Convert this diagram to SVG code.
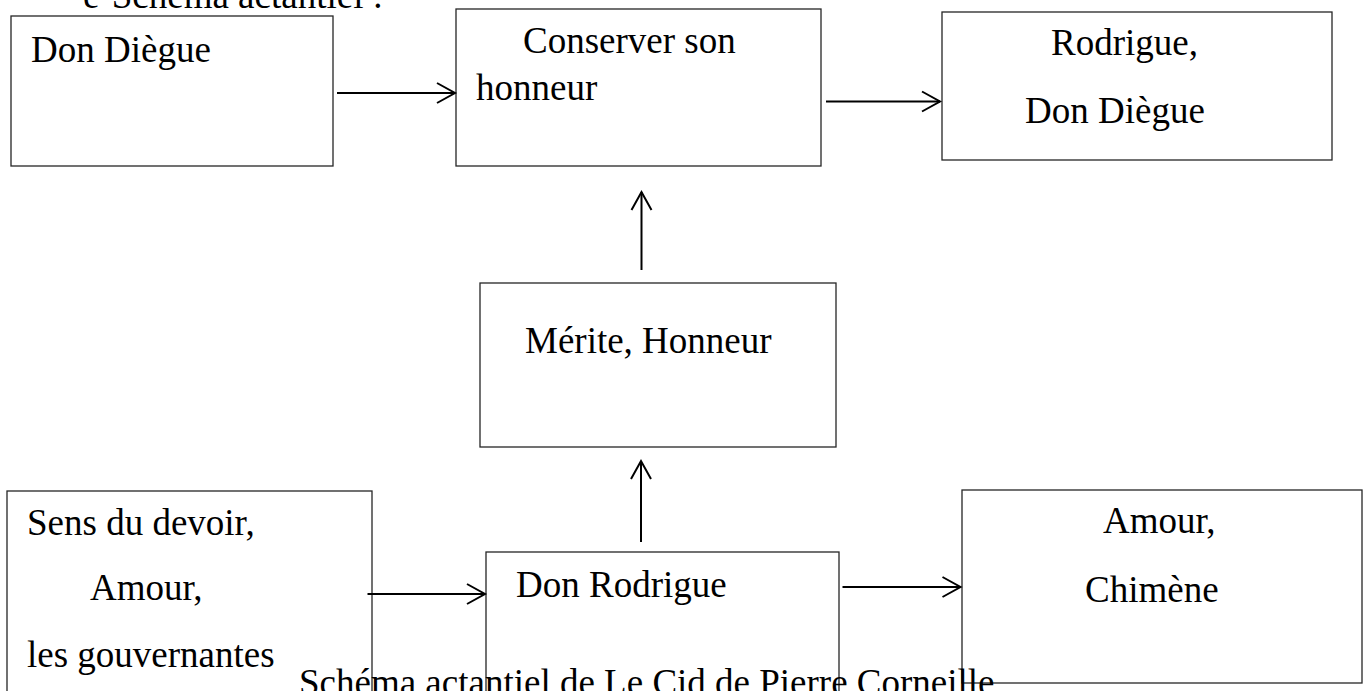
<svg xmlns="http://www.w3.org/2000/svg" width="1364" height="691" viewBox="0 0 1364 691">
  <style>
    .box { fill: #ffffff; stroke: #262626; stroke-width: 1.3; }
    .t { font-family: "Liberation Serif", "Times New Roman", serif; font-size: 37px; fill: #000000; }
    .edge { stroke: #000000; stroke-width: 2; fill: none; }
  </style>
  <defs>
    <marker id="arrow" markerUnits="userSpaceOnUse" markerWidth="24" markerHeight="24" viewBox="-20 -12 22 24" refX="0" refY="0" orient="auto">
      <path d="M-18,-10 L0,0 L-18,10" fill="none" stroke="#000000" stroke-width="2"/>
    </marker>
  </defs>
  <rect width="1364" height="691" fill="#ffffff"/>

  <text class="t" x="83" y="8">e-Schéma actantiel :</text>

  <g id="node-destinateur">
    <rect class="box" x="11" y="16" width="322" height="150"/>
    <text class="t" x="31" y="62">Don Diègue</text>
  </g>

  <g id="node-objet">
    <rect class="box" x="456" y="9" width="365" height="157"/>
    <text class="t" x="523" y="53">Conserver son</text>
    <text class="t" x="476" y="100">honneur</text>
  </g>

  <g id="node-destinataire">
    <rect class="box" x="942" y="12" width="390" height="148"/>
    <text class="t" x="1051" y="55">Rodrigue,</text>
    <text class="t" x="1025" y="123">Don Diègue</text>
  </g>

  <g id="node-motivation">
    <rect class="box" x="480" y="283" width="356" height="164"/>
    <text class="t" x="525" y="353">Mérite, Honneur</text>
  </g>

  <g id="node-adjuvant">
    <rect class="box" x="7" y="491" width="365" height="215"/>
    <text class="t" x="27" y="535">Sens du devoir,</text>
    <text class="t" x="90" y="600">Amour,</text>
    <text class="t" x="27" y="667">les gouvernantes</text>
  </g>

  <g id="node-sujet">
    <rect class="box" x="486" y="552" width="353" height="160"/>
    <text class="t" x="516" y="597">Don Rodrigue</text>
  </g>

  <g id="node-opposant">
    <rect class="box" x="962" y="490" width="400" height="193"/>
    <text class="t" x="1103" y="533">Amour,</text>
    <text class="t" x="1085" y="602">Chimène</text>
  </g>

  <g id="connectors">
    <line class="edge" x1="337" y1="93" x2="455" y2="93" marker-end="url(#arrow)"/>
    <line class="edge" x1="826" y1="101.5" x2="940" y2="101.5" marker-end="url(#arrow)"/>
    <line class="edge" x1="641.5" y1="270" x2="641.5" y2="192" marker-end="url(#arrow)"/>
    <line class="edge" x1="641" y1="542" x2="641" y2="461" marker-end="url(#arrow)"/>
    <line class="edge" x1="367.5" y1="594" x2="485" y2="594" marker-end="url(#arrow)"/>
    <line class="edge" x1="842.5" y1="587" x2="960.5" y2="587" marker-end="url(#arrow)"/>
  </g>

  <text class="t" x="299" y="695">Schéma actantiel de Le Cid de Pierre Corneille</text>
</svg>
